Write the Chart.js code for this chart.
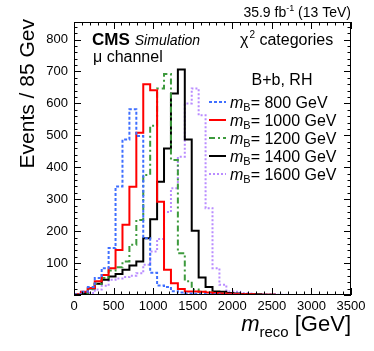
<!DOCTYPE html>
<html>
<head>
<meta charset="utf-8">
<script src="https://cdn.jsdelivr.net/npm/chart.js@4.4.1/dist/chart.umd.min.js"></script>
<style>
  html, body { margin: 0; padding: 0; background: #fff; }
  #wrap { width: 374px; height: 351px; }
</style>
</head>
<body>
<div id="wrap"><canvas id="chart" width="374" height="351"></canvas></div>
<script>
// Histogram binning (40 bins over 0 - 3500 GeV)
const binWidth = 87.5;
const xTicks = [0, 500, 1000, 1500, 2000, 2500, 3000, 3500];
const yTicks = [100, 200, 300, 400, 500, 600, 700, 800];

// Events per bin
const mass800 = [2, 10, 25, 53, 84, 147, 340, 487, 582, 498, 178, 70, 30, 25, 12, 8, 5, 4, 3, 2,
                 2, 1, 1, 1, 0, 0, 0, 0, 0, 0, 0, 0, 0, 0, 0, 0, 0, 0, 0, 0];
const mass1000 = [2, 10, 22, 43, 63, 84, 141, 220, 339, 508, 660, 641, 292, 79, 37, 19, 11, 11, 10, 8,
                  6, 5, 4, 3, 2, 2, 1, 1, 1, 0, 0, 0, 0, 0, 0, 0, 0, 0, 0, 0];
const mass1200 = [1, 6, 18, 35, 53, 77, 87, 105, 157, 235, 376, 530, 647, 692, 423, 131, 43, 17, 10, 8,
                  6, 4, 3, 2, 2, 1, 1, 0, 0, 0, 0, 0, 0, 0, 0, 0, 0, 0, 0, 0];
const mass1400 = [1, 6, 20, 35, 48, 58, 66, 79, 92, 105, 178, 237, 355, 459, 631, 706, 487, 201, 55, 25,
                  11, 10, 6, 5, 3, 2, 2, 1, 1, 0, 0, 0, 0, 0, 0, 0, 0, 0, 0, 0];
const mass1600 = [0, 2, 6, 17, 29, 48, 52, 56, 60, 68, 95, 136, 175, 260, 334, 433, 600, 647, 563, 272,
                  84, 32, 11, 10, 6, 5, 3, 2, 2, 1, 1, 0, 0, 0, 0, 0, 0, 0, 0, 0];

const massLabels = ['800', '1000', '1200', '1400', '1600'];

const FONT = '"Liberation Sans", Arial, Helvetica, sans-serif';

// turn bin contents into step points at the bin edges
function toSteps(values) {
    const pts = values.map((v, i) => ({ x: i * binWidth, y: v }));
    pts.push({ x: values.length * binWidth, y: values[values.length - 1] });
    return pts;
}

function histo(values, color, dash) {
    return {
        data: toSteps(values),
        borderColor: color,
        borderWidth: 2,
        borderDash: dash,
        pointRadius: 0,
        fill: false,
        stepped: 'before',
        tension: 0
    };
}

// legend entry "m_B= xxx GeV", returns its width
function massEntry(ctx, label, x, base, size) {
    ctx.font = 'italic ' + size + 'px ' + FONT;
    ctx.fillText('m', x, base);
    let tx = x + ctx.measureText('m').width;
    ctx.font = Math.round(size * 0.7) + 'px ' + FONT;
    ctx.fillText('B', tx, base + 3);
    tx += ctx.measureText('B').width;
    ctx.font = size + 'px ' + FONT;
    ctx.fillText('= ' + label + ' GeV', tx, base);
    return tx + ctx.measureText('= ' + label + ' GeV').width - x;
}

// frame, inward ticks, labels and legend drawn like a ROOT canvas
const cmsDecor = {
    id: 'cmsDecor',
    afterDraw(chart) {
        const ctx = chart.ctx;
        const area = chart.chartArea;
        const xs = chart.scales.x;
        const ys = chart.scales.y;
        ctx.save();
        ctx.strokeStyle = '#000';
        ctx.lineWidth = 1;
        ctx.strokeRect(area.left + 0.5, area.top + 0.5, area.right - area.left - 1, area.bottom - area.top - 1);

        ctx.beginPath();
        for (let v = 0; v <= 3500; v += 100) {
            const px = Math.round(xs.getPixelForValue(v)) + 0.5;
            const len = v % 500 === 0 ? 7 : 3.5;
            ctx.moveTo(px, area.bottom); ctx.lineTo(px, area.bottom - len);
            ctx.moveTo(px, area.top); ctx.lineTo(px, area.top + len);
        }
        for (let v = 0; v <= 850; v += 20) {
            const py = Math.round(ys.getPixelForValue(v)) + 0.5;
            const len = v % 100 === 0 ? 7 : 3.5;
            ctx.moveTo(area.left, py); ctx.lineTo(area.left + len, py);
            ctx.moveTo(area.right, py); ctx.lineTo(area.right - len, py);
        }
        ctx.stroke();

        ctx.fillStyle = '#000';
        ctx.textBaseline = 'alphabetic';
        ctx.textAlign = 'left';

        // luminosity label with superscript
        ctx.font = '14px ' + FONT;
        const tail = ' (13 TeV)';
        const wTail = ctx.measureText(tail).width;
        const wHead = ctx.measureText('35.9 fb').width;
        ctx.font = '9px ' + FONT;
        const wSup = ctx.measureText('-1').width;
        let x = 351 - wTail - wSup - wHead;
        ctx.font = '14px ' + FONT;
        ctx.fillText('35.9 fb', x, 17);
        ctx.font = '9px ' + FONT;
        ctx.fillText('-1', x + wHead, 11);
        ctx.font = '14px ' + FONT;
        ctx.fillText(tail, x + wHead + wSup, 17);

        // CMS Simulation, channel
        ctx.font = 'bold 17px ' + FONT;
        ctx.fillText('CMS', 92, 45);
        const wCms = ctx.measureText('CMS').width;
        ctx.font = 'italic 14px ' + FONT;
        ctx.fillText('Simulation', 92 + wCms + 5, 45);
        ctx.font = '16px ' + FONT;
        ctx.fillText('\u03bc channel', 93, 62);

        // chi2 categories
        ctx.font = '16px ' + FONT;
        ctx.fillText('\u03c7', 240, 45);
        const wChi = ctx.measureText('\u03c7').width;
        ctx.font = '10px ' + FONT;
        ctx.fillText('2', 240 + wChi + 1, 38);
        const w2 = ctx.measureText('2').width;
        ctx.font = '16px ' + FONT;
        ctx.fillText(' categories', 240 + wChi + 1 + w2, 45);

        // legend: size the entries so the widest one ends where the original does
        ctx.font = '16px ' + FONT;
        ctx.textAlign = 'center';
        ctx.fillText('B+b, RH', 282, 85);
        ctx.textAlign = 'left';
        ctx.save();
        ctx.globalAlpha = 0;
        const wRef = massEntry(ctx, '1000', 0, 0, 16);
        ctx.restore();
        const legSize = Math.min(16, 16 * 107 / wRef);
        chart.data.datasets.forEach((ds, i) => {
            const cy = 102 + i * 18;
            ctx.save();
            ctx.strokeStyle = ds.borderColor;
            ctx.lineWidth = ds.borderWidth;
            ctx.setLineDash(ds.borderDash || []);
            ctx.beginPath();
            ctx.moveTo(209, cy);
            ctx.lineTo(226, cy);
            ctx.stroke();
            ctx.restore();
            massEntry(ctx, massLabels[i], 230, cy + 5.5, legSize);
        });

        // x axis title
        ctx.font = '22px ' + FONT;
        const wUnit = ctx.measureText(' [GeV]').width;
        ctx.font = '15px ' + FONT;
        const wReco = ctx.measureText('reco').width;
        ctx.font = 'italic 22px ' + FONT;
        const wM = ctx.measureText('m').width;
        x = 351 - wUnit - wReco - wM;
        ctx.fillText('m', x, 331);
        ctx.font = '15px ' + FONT;
        ctx.fillText('reco', x + wM, 337);
        ctx.font = '22px ' + FONT;
        ctx.fillText(' [GeV]', x + wM + wReco, 331);

        // y axis title
        ctx.translate(34, 19);
        ctx.rotate(-Math.PI / 2);
        ctx.textAlign = 'right';
        ctx.font = '21px ' + FONT;
        ctx.fillText('Events / 85 Gev', 0, 0);
        ctx.restore();
    }
};

new Chart(document.getElementById('chart'), {
    type: 'line',
    data: {
        datasets: [
            histo(mass800, '#3f6fff', [3, 2]),
            histo(mass1000, '#ff0000', []),
            histo(mass1200, '#3d9a3d', [6, 3, 2, 3]),
            histo(mass1400, '#000000', []),
            histo(mass1600, '#b98cff', [2, 2])
        ]
    },
    options: {
        responsive: false,
        devicePixelRatio: 1,
        animation: false,
        layout: { padding: { top: 22, right: 23, left: 0, bottom: 0 } },
        plugins: {
            legend: { display: false },
            tooltip: { enabled: false }
        },
        scales: {
            x: {
                type: 'linear',
                min: 0,
                max: 3500,
                afterBuildTicks: s => { s.ticks = xTicks.map(v => ({ value: v })); },
                afterFit: s => { s.height = 56; },
                grid: { display: false, drawTicks: false },
                border: { display: false },
                ticks: {
                    autoSkip: false,
                    maxRotation: 0,
                    padding: 4,
                    color: '#000',
                    font: { family: FONT, size: 13 },
                    callback: v => String(v)
                }
            },
            y: {
                type: 'linear',
                min: 0,
                max: 855,
                afterBuildTicks: s => { s.ticks = yTicks.map(v => ({ value: v })); },
                afterFit: s => { s.width = 74; },
                grid: { display: false, drawTicks: false },
                border: { display: false },
                ticks: {
                    padding: 6,
                    color: '#000',
                    font: { family: FONT, size: 13 },
                    callback: v => String(v)
                }
            }
        }
    },
    plugins: [cmsDecor]
});
</script>
</body>
</html>
